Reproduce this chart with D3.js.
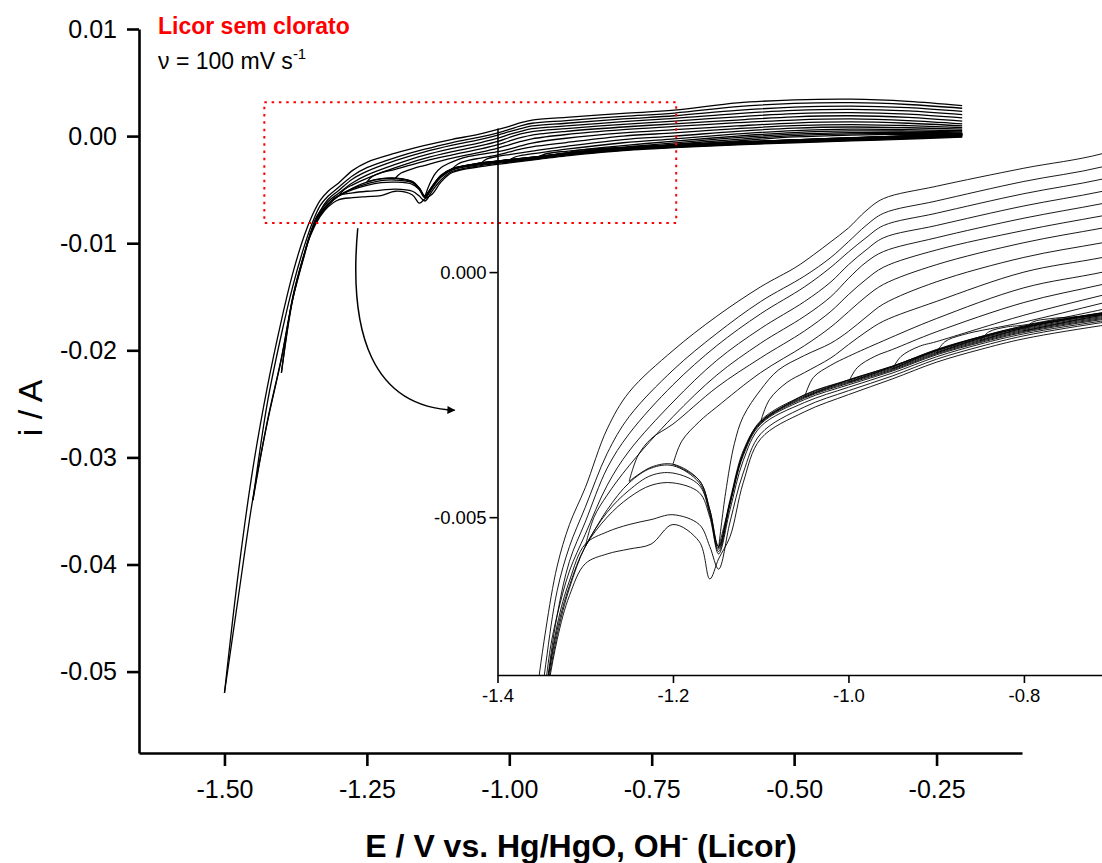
<!DOCTYPE html>
<html>
<head>
<meta charset="utf-8">
<script src="https://cdn.jsdelivr.net/npm/d3@7"></script>
<style>
  body { margin: 0; background: #fff; }
  svg { font-family: "Liberation Sans", Arial, sans-serif; }
</style>
</head>
<body>
<div id="chart"></div>
<script>

// lower vertex potential of each cycle (V)
const cycleLower = [-1.50, -1.45, -1.40, -1.35, -1.30, -1.25, -1.20, -1.15, -1.10, -1.05, -1.00, -0.95, -0.90, -0.85, -0.80];

// potentials of the cathodic sweep (from -0.205 V downwards)
const cathE = [-0.205, -0.30, -0.40, -0.50, -0.60, -0.70, -0.80, -0.85, -0.90, -0.95, -1.00, -1.05, -1.10,
               -1.12, -1.135, -1.148, -1.158, -1.17, -1.20, -1.225, -1.25, -1.275, -1.30, -1.318, -1.332,
               -1.35, -1.36, -1.38, -1.40, -1.425, -1.45, -1.475, -1.50];

// cathodic currents in mA, one row per cycle, stops at the lower vertex
const cathI = [
  [-0.1, -0.28, -0.45, -0.62, -0.82, -1.06, -1.36, -1.58, -1.84, -2.18, -2.5, -2.85, -3.4, -4.3, -5.4, -5.85, -6.26, -5.5, -5.15, -5.55, -5.65, -5.75, -5.95, -6.6, -7.5, -9.4, -11.2, -15.2, -20.8, -26.8, -33.8, -42.8, -52.0],
  [-0.05, -0.22, -0.4, -0.57, -0.77, -1.0, -1.3, -1.52, -1.78, -2.12, -2.42, -2.75, -3.3, -4.1, -5.1, -6.06, -5.6, -5.15, -4.95, -5.05, -5.15, -5.3, -5.55, -6.3, -7.2, -9.3, -11.1, -15.1, -20.7, -26.7, -34.0],
  [0.0, -0.18, -0.36, -0.54, -0.74, -0.97, -1.26, -1.47, -1.73, -2.06, -2.35, -2.66, -3.15, -3.85, -4.85, -5.75, -5.0, -4.5, -4.3, -4.35, -4.6, -5.0, -5.6, -6.4, -7.3, -9.2, -11.0, -15.2, -22.1],
  [0.03, -0.15, -0.33, -0.51, -0.71, -0.94, -1.23, -1.44, -1.69, -2.02, -2.3, -2.6, -3.1, -3.75, -4.75, -5.7, -4.95, -4.35, -4.1, -4.15, -4.45, -4.9, -5.6, -6.45, -7.4, -9.2],
  [0.05, -0.13, -0.31, -0.49, -0.69, -0.92, -1.21, -1.42, -1.67, -2.0, -2.27, -2.57, -3.08, -3.7, -4.7, -5.65, -4.9, -4.3, -3.95, -4.0, -4.3, -4.85, -5.6],
  [0.08, -0.1, -0.28, -0.47, -0.67, -0.9, -1.19, -1.4, -1.65, -1.98, -2.25, -2.55, -3.06, -3.7, -4.7, -5.6, -4.85, -4.25, -3.92, -3.98, -4.27],
  [0.1, -0.08, -0.26, -0.45, -0.65, -0.88, -1.17, -1.38, -1.63, -1.96, -2.23, -2.53, -3.05, -3.65, -4.65, -5.6, -4.85, -4.25, -3.92],
  [0.12, -0.06, -0.24, -0.43, -0.63, -0.86, -1.15, -1.36, -1.61, -1.94, -2.21, -2.51, -3.03, -3.7, -4.7, -5.63],
  [0.14, -0.04, -0.22, -0.41, -0.61, -0.84, -1.13, -1.34, -1.6, -1.92, -2.2, -2.5, -3.05],
  [0.15, -0.03, -0.21, -0.4, -0.6, -0.83, -1.12, -1.33, -1.59, -1.92, -2.2, -2.55],
  [0.17, -0.01, -0.19, -0.38, -0.58, -0.81, -1.1, -1.32, -1.58, -1.93, -2.25],
  [0.18, 0.0, -0.18, -0.37, -0.57, -0.8, -1.1, -1.32, -1.6, -1.98],
  [0.19, 0.01, -0.17, -0.36, -0.56, -0.8, -1.12, -1.35, -1.65],
  [0.2, 0.02, -0.16, -0.35, -0.56, -0.81, -1.14, -1.4],
  [0.21, 0.03, -0.15, -0.35, -0.57, -0.84, -1.2]
];

// anodic sweeps [E (V), i (mA)], from the lower vertex back to -0.205 V
const anodic = [
  [[-1.5,-52],[-1.475,-40.5],[-1.45,-31],[-1.425,-23.5],[-1.4,-17.2],[-1.38,-12.8],[-1.36,-9.3],[-1.345,-7.3],[-1.332,-6.0],[-1.318,-5.15],[-1.3,-4.4],[-1.275,-3.2],[-1.25,-2.45],[-1.2,-1.6],[-1.15,-0.9],[-1.1,-0.3],[-1.06,0.1],[-1.04,0.35],[-1.02,0.62],[-1.0,0.9],[-0.98,1.25],[-0.96,1.5],[-0.9,1.75],[-0.8,2.12],[-0.71,2.42],[-0.6,3.1],[-0.5,3.38],[-0.4,3.45],[-0.3,3.25],[-0.205,2.85]],
  [[-1.45,-34.0],[-1.425,-25.0],[-1.4,-18.5],[-1.38,-14.0],[-1.36,-10.3],[-1.345,-8.0],[-1.332,-6.5],[-1.318,-5.6],[-1.3,-4.8],[-1.275,-3.7],[-1.25,-2.95],[-1.2,-2.0],[-1.15,-1.25],[-1.1,-0.6],[-1.05,-0.08],[-1.02,0.3],[-1.0,0.62],[-0.98,0.95],[-0.96,1.2],[-0.9,1.45],[-0.8,1.85],[-0.71,2.15],[-0.6,2.75],[-0.5,3.05],[-0.4,3.12],[-0.3,2.95],[-0.205,2.6]],
  [[-1.4,-22.1],[-1.38,-15.0],[-1.36,-11.0],[-1.345,-8.6],[-1.332,-7.0],[-1.318,-5.9],[-1.3,-5.1],[-1.275,-4.0],[-1.25,-3.3],[-1.2,-2.3],[-1.15,-1.5],[-1.1,-0.85],[-1.05,-0.3],[-1.02,0.1],[-1.0,0.41],[-0.98,0.7],[-0.96,0.95],[-0.9,1.2],[-0.8,1.6],[-0.71,1.9],[-0.6,2.4],[-0.5,2.7],[-0.4,2.8],[-0.3,2.65],[-0.205,2.3]],
  [[-1.35,-9.2],[-1.34,-7.7],[-1.332,-7.0],[-1.318,-6.1],[-1.3,-5.35],[-1.275,-4.35],[-1.25,-3.65],[-1.2,-2.65],[-1.15,-1.8],[-1.1,-1.15],[-1.05,-0.6],[-1.02,-0.2],[-1.0,0.15],[-0.98,0.45],[-0.96,0.7],[-0.9,0.95],[-0.8,1.35],[-0.71,1.65],[-0.6,2.1],[-0.5,2.4],[-0.4,2.5],[-0.3,2.35],[-0.205,2.0]],
  [[-1.3,-5.6],[-1.29,-5.0],[-1.275,-4.55],[-1.25,-3.95],[-1.2,-2.95],[-1.15,-2.1],[-1.1,-1.45],[-1.05,-0.9],[-1.02,-0.5],[-1.0,-0.13],[-0.98,0.2],[-0.96,0.42],[-0.9,0.7],[-0.8,1.1],[-0.71,1.4],[-0.6,1.8],[-0.5,2.1],[-0.4,2.2],[-0.3,2.05],[-0.205,1.7]],
  [[-1.25,-4.27],[-1.24,-3.75],[-1.225,-3.4],[-1.2,-3.1],[-1.15,-2.35],[-1.1,-1.75],[-1.05,-1.2],[-1.02,-0.8],[-1.0,-0.46],[-0.98,-0.15],[-0.96,0.1],[-0.9,0.45],[-0.8,0.85],[-0.71,1.15],[-0.6,1.5],[-0.5,1.8],[-0.4,1.9],[-0.3,1.75],[-0.205,1.4]],
  [[-1.2,-3.92],[-1.19,-3.45],[-1.17,-3.05],[-1.15,-2.75],[-1.1,-2.05],[-1.05,-1.5],[-1.02,-1.12],[-1.0,-0.81],[-0.98,-0.5],[-0.96,-0.25],[-0.9,0.15],[-0.8,0.6],[-0.71,0.9],[-0.6,1.25],[-0.5,1.5],[-0.4,1.6],[-0.3,1.45],[-0.205,1.15]],
  [[-1.148,-5.63],[-1.14,-4.5],[-1.13,-3.5],[-1.12,-2.95],[-1.1,-2.4],[-1.08,-2.0],[-1.05,-1.7],[-1.02,-1.45],[-1.0,-1.21],[-0.98,-0.92],[-0.96,-0.65],[-0.9,-0.2],[-0.8,0.3],[-0.71,0.6],[-0.6,0.95],[-0.5,1.22],[-0.4,1.32],[-0.3,1.2],[-0.205,0.95]],
  [[-1.1,-3.05],[-1.09,-2.6],[-1.07,-2.25],[-1.05,-2.05],[-1.02,-1.75],[-1.0,-1.48],[-0.98,-1.22],[-0.96,-1.0],[-0.9,-0.6],[-0.8,0.0],[-0.71,0.3],[-0.6,0.7],[-0.5,0.98],[-0.4,1.08],[-0.3,0.98],[-0.205,0.8]],
  [[-1.05,-2.55],[-1.04,-2.15],[-1.02,-1.9],[-1.0,-1.72],[-0.96,-1.4],[-0.9,-0.95],[-0.8,-0.32],[-0.71,0.0],[-0.6,0.45],[-0.5,0.75],[-0.4,0.85],[-0.3,0.78],[-0.205,0.65]],
  [[-1.0,-2.25],[-0.99,-1.95],[-0.97,-1.72],[-0.95,-1.58],[-0.9,-1.22],[-0.8,-0.62],[-0.71,-0.25],[-0.6,0.2],[-0.5,0.52],[-0.4,0.65],[-0.3,0.6],[-0.205,0.5]],
  [[-0.95,-1.98],[-0.94,-1.72],[-0.92,-1.52],[-0.9,-1.42],[-0.8,-0.88],[-0.71,-0.47],[-0.6,0.0],[-0.5,0.33],[-0.4,0.48],[-0.3,0.47],[-0.205,0.4]],
  [[-0.9,-1.65],[-0.89,-1.42],[-0.87,-1.28],[-0.8,-1.02],[-0.71,-0.63],[-0.6,-0.15],[-0.5,0.18],[-0.4,0.33],[-0.3,0.35],[-0.205,0.3]],
  [[-0.85,-1.4],[-0.84,-1.22],[-0.82,-1.12],[-0.8,-1.08],[-0.71,-0.76],[-0.6,-0.3],[-0.5,0.05],[-0.4,0.2],[-0.3,0.25],[-0.205,0.22]],
  [[-0.8,-1.2],[-0.79,-1.02],[-0.77,-0.95],[-0.71,-0.86],[-0.6,-0.45],[-0.5,-0.08],[-0.4,0.1],[-0.3,0.17],[-0.205,0.15]]
];

// ticks
const mainXTicks = [-1.50, -1.25, -1.00, -0.75, -0.50, -0.25];
const mainYTicks = [0.01, 0.00, -0.01, -0.02, -0.03, -0.04, -0.05];
const insetXTicks = [-1.4, -1.2, -1.0, -0.8];
const insetYTicks = [0.000, -0.005];

// zoomed window (E range, i range in A) and arrow anchors [E, i in mA]
const zoomBox = [-1.43, -0.707, -0.00812, 0.00317];
const arrowPts = [[-1.266, -8.6], [-1.283, -18.5], [-1.24, -25.3], [-1.096, -25.6]];

var W = 1102, H = 863;

var svg = d3.select("#chart").append("svg")
    .attr("width", W)
    .attr("height", H);

// main scales
var x = d3.scaleLinear().domain([-1.65, -0.10]).range([139, 1022]);
var y = d3.scaleLinear().domain([-0.0576, 0.01]).range([753, 29]);

// inset scales
var xi = d3.scaleLinear().domain([-1.4, -0.711]).range([497.5, 1102]);
var yi = d3.scaleLinear().domain([-0.00822, 0.00294]).range([675, 128]);

// branches (cathodic + anodic) as [E, mA]
var branches = [];
cathI.forEach(function(row) {
    branches.push(row.map(function(v, j) { return [cathE[j], v]; }));
});
anodic.forEach(function(b) { branches.push(b); });

var lineMain = d3.line()
    .x(function(d) { return x(d[0]); })
    .y(function(d) { return y(d[1] / 1000); })
    .curve(d3.curveCatmullRom.alpha(0.5));

var lineInset = d3.line()
    .x(function(d) { return xi(d[0]); })
    .y(function(d) { return yi(d[1] / 1000); })
    .curve(d3.curveCatmullRom.alpha(0.5));

// main curves
svg.append("g")
    .selectAll("path")
    .data(branches)
    .enter()
    .append("path")
    .attr("d", lineMain)
    .attr("fill", "none")
    .attr("stroke", "#000")
    .attr("stroke-width", 1.3);

// main axes
var fmt2 = function(d) { return d.toFixed(2); };

var gx = svg.append("g")
    .attr("transform", "translate(0,753)")
    .call(d3.axisBottom(x).tickValues(mainXTicks).tickFormat(fmt2).tickSize(13).tickSizeOuter(0).tickPadding(14));
var gy = svg.append("g")
    .attr("transform", "translate(139,0)")
    .call(d3.axisLeft(y).tickValues(mainYTicks).tickFormat(fmt2).tickSize(12).tickSizeOuter(0).tickPadding(10));

[gx, gy].forEach(function(g) {
    g.select(".domain").attr("stroke-width", 2.6);
    g.selectAll(".tick line").attr("stroke-width", 2.6);
    g.selectAll(".tick text")
        .attr("font-size", 25)
        .attr("font-family", "Liberation Sans, Arial, sans-serif")
        .attr("fill", "#000");
});

// axis titles
svg.append("text")
    .attr("transform", "translate(42,408) rotate(-90)")
    .attr("text-anchor", "middle")
    .attr("font-size", 34)
    .text("i / A");

var xt = svg.append("text")
    .attr("x", 581)
    .attr("y", 857)
    .attr("text-anchor", "middle")
    .attr("font-size", 32)
    .attr("font-weight", "bold");
xt.append("tspan").text("E / V vs. Hg/HgO, OH");
xt.append("tspan").attr("font-size", 19).attr("dy", -13).text("-");
xt.append("tspan").attr("dy", 13).text(" (Licor)");

// labels top left
svg.append("text")
    .attr("x", 158)
    .attr("y", 34)
    .attr("font-size", 23)
    .attr("font-weight", "bold")
    .attr("fill", "#ff0000")
    .text("Licor sem clorato");

var nu = svg.append("text")
    .attr("x", 158)
    .attr("y", 69)
    .attr("font-size", 23);
nu.append("tspan").text("\u03bd = 100 mV s");
nu.append("tspan").attr("font-size", 15).attr("dy", -10).text("-1");

// red dotted zoom window
svg.append("rect")
    .attr("x", x(zoomBox[0]))
    .attr("y", y(zoomBox[3]))
    .attr("width", x(zoomBox[1]) - x(zoomBox[0]))
    .attr("height", y(zoomBox[2]) - y(zoomBox[3]))
    .attr("fill", "none")
    .attr("stroke", "#ff0000")
    .attr("stroke-width", 2)
    .attr("stroke-dasharray", "2.5,4.8");

// inset
svg.append("clipPath")
    .attr("id", "clipInset")
    .append("rect")
    .attr("x", 497.5)
    .attr("y", 128)
    .attr("width", 1102 - 497.5)
    .attr("height", 675 - 128);

svg.append("g")
    .attr("clip-path", "url(#clipInset)")
    .selectAll("path")
    .data(branches)
    .enter()
    .append("path")
    .attr("d", lineInset)
    .attr("fill", "none")
    .attr("stroke", "#000")
    .attr("stroke-width", 0.9);

var gxi = svg.append("g")
    .attr("transform", "translate(0,675)")
    .call(d3.axisBottom(xi).tickValues(insetXTicks).tickFormat(function(d) { return d.toFixed(1); }).tickSize(8).tickSizeOuter(0).tickPadding(6));
var gyi = svg.append("g")
    .attr("transform", "translate(497.5,0)")
    .call(d3.axisLeft(yi).tickValues(insetYTicks).tickFormat(function(d) { return d.toFixed(3); }).tickSize(8).tickSizeOuter(0).tickPadding(3));

[gxi, gyi].forEach(function(g) {
    g.select(".domain").attr("stroke-width", 1.6);
    g.selectAll(".tick line").attr("stroke-width", 1.6);
    g.selectAll(".tick text")
        .attr("font-size", 18.5)
        .attr("font-family", "Liberation Sans, Arial, sans-serif")
        .attr("fill", "#000");
});

// curved arrow pointing to the inset
svg.append("defs").append("marker")
    .attr("id", "arrowHead")
    .attr("viewBox", "0 0 10 10")
    .attr("refX", 9)
    .attr("refY", 5)
    .attr("markerWidth", 14)
    .attr("markerHeight", 8)
    .attr("markerUnits", "userSpaceOnUse")
    .attr("orient", "auto")
    .append("path")
    .attr("d", "M0,0 L10,5 L0,10 Z")
    .attr("fill", "#000");

var ap = arrowPts.map(function(p) { return [x(p[0]), y(p[1] / 1000)]; });
var arrowPath = d3.path();
arrowPath.moveTo(ap[0][0], ap[0][1]);
arrowPath.bezierCurveTo(ap[1][0], ap[1][1], ap[2][0], ap[2][1], ap[3][0], ap[3][1]);

svg.append("path")
    .attr("d", arrowPath.toString())
    .attr("fill", "none")
    .attr("stroke", "#000")
    .attr("stroke-width", 1.5)
    .attr("marker-end", "url(#arrowHead)");

</script>
</body>
</html>
